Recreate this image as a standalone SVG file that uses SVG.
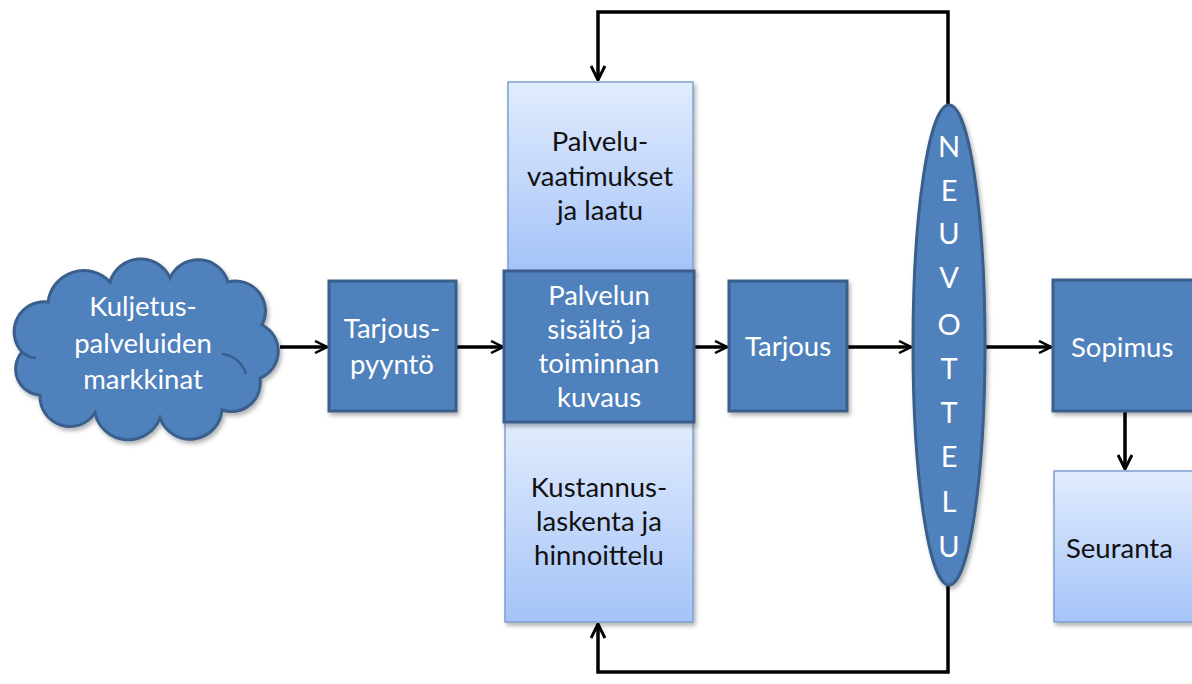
<svg xmlns="http://www.w3.org/2000/svg" width="1192" height="684" viewBox="0 0 1192 684">
<defs>
<linearGradient id="lg" x1="0" y1="0" x2="0" y2="1">
<stop offset="0" stop-color="#E1ECFD"/>
<stop offset="1" stop-color="#A5C3F8"/>
</linearGradient>
<filter id="sh" x="-10%" y="-10%" width="130%" height="130%">
<feDropShadow dx="2" dy="3" stdDeviation="2" flood-color="#000" flood-opacity="0.3"/>
</filter>
<marker id="ah" viewBox="0 0 14 14" refX="13" refY="7" markerWidth="14" markerHeight="14" markerUnits="userSpaceOnUse" orient="auto">
<path d="M1,1 L13,7 L1,13" fill="none" stroke="#000" stroke-width="2.5"/>
</marker>
<marker id="ah2" viewBox="0 0 16 16" refX="15" refY="8" markerWidth="16" markerHeight="16" markerUnits="userSpaceOnUse" orient="auto">
<path d="M1,1 L15,8 L1,15" fill="none" stroke="#000" stroke-width="3"/>
</marker>
</defs>
<style>
.dark{fill:#4F81BD;stroke:#3A5F8B;stroke-width:3}
.light{fill:url(#lg);stroke:#7EA0CF;stroke-width:1.5}
.tw{font-family:Lato,"Open Sans",sans-serif;font-size:27.5px;fill:#fff;text-anchor:middle}
.tb{font-family:Lato,"Open Sans",sans-serif;font-size:27.5px;fill:#111;text-anchor:middle}
.lt{font-family:Lato,"Open Sans",sans-serif;font-size:29px;fill:#fff;text-anchor:middle}
.ln{fill:none;stroke:#000;stroke-width:3.5}
</style>
<rect width="1192" height="684" fill="#fff"/>

<g id="connectors">
<line class="ln" x1="280" y1="347" x2="327" y2="347" marker-end="url(#ah)"/>
<line class="ln" x1="456" y1="347" x2="503" y2="347" marker-end="url(#ah)"/>
<line class="ln" x1="695" y1="347" x2="727" y2="347" marker-end="url(#ah)"/>
<line class="ln" x1="847" y1="347" x2="911" y2="347" marker-end="url(#ah)"/>
<line class="ln" x1="985" y1="347" x2="1051" y2="347" marker-end="url(#ah)"/>
<line class="ln" x1="1125" y1="411" x2="1125" y2="469" marker-end="url(#ah2)"/>
<polyline class="ln" points="948,106 948,12 598,12 598,80" marker-end="url(#ah2)"/>
<polyline class="ln" points="948,584 948,672 598,672 598,624" marker-end="url(#ah2)"/>
</g>

<g id="cloud">
<path class="dark" filter="url(#sh)" d="M22,352 A30,30 0 0 1 48,302 A36,36 0 0 1 110,282 A32,32 0 0 1 170,278 A31,31 0 0 1 228,282 A30,30 0 0 1 262,325 A29,29 0 0 1 260,378 A29,29 0 0 1 222,410 A32,32 0 0 1 160,418 A34,34 0 0 1 95,413 A30,30 0 0 1 40,395 A26,26 0 0 1 22,352 Z"/>
<path d="M222,354 A28,28 0 0 1 246,374" fill="none" stroke="#3A5F8B" stroke-width="2.5"/>
<path d="M22,352 A22,22 0 0 0 36,358" fill="none" stroke="#3A5F8B" stroke-width="2.5"/>
<text class="tw" x="143" y="316">Kuljetus-</text>
<text class="tw" x="143" y="353">palveluiden</text>
<text class="tw" x="143" y="389">markkinat</text>
</g>

<g id="tarjouspyynto">
<rect class="dark" filter="url(#sh)" x="329" y="281" width="127" height="130"/>
<text class="tw" x="392" y="338">Tarjous-</text>
<text class="tw" x="392" y="374">pyyntö</text>
</g>

<g id="vaatimukset">
<rect class="light" filter="url(#sh)" x="508" y="82" width="185" height="190"/>
<text class="tb" x="600" y="151">Palvelu-</text>
<text class="tb" x="600" y="186">vaatimukset</text>
<text class="tb" x="600" y="220">ja laatu</text>
</g>

<g id="kustannus">
<rect class="light" filter="url(#sh)" x="505" y="422" width="188" height="200"/>
<text class="tb" x="599" y="497">Kustannus-</text>
<text class="tb" x="599" y="531">laskenta ja</text>
<text class="tb" x="599" y="565">hinnoittelu</text>
</g>

<g id="sisalto">
<rect class="dark" filter="url(#sh)" x="504" y="271" width="190" height="151"/>
<text class="tw" x="599" y="305">Palvelun</text>
<text class="tw" x="599" y="339">sisältö ja</text>
<text class="tw" x="599" y="373">toiminnan</text>
<text class="tw" x="599" y="407">kuvaus</text>
</g>

<g id="tarjous">
<rect class="dark" filter="url(#sh)" x="729" y="281" width="118" height="130"/>
<text class="tw" x="788" y="356">Tarjous</text>
</g>

<g id="neuvottelu">
<ellipse class="dark" filter="url(#sh)" cx="949" cy="345" rx="36" ry="240" stroke-width="2.5"/>
<text class="lt" x="949" y="157">N</text>
<text class="lt" x="949" y="201">E</text>
<text class="lt" x="949" y="244">U</text>
<text class="lt" x="949" y="288">V</text>
<text class="lt" x="949" y="335">O</text>
<text class="lt" x="949" y="379">T</text>
<text class="lt" x="949" y="423">T</text>
<text class="lt" x="949" y="467">E</text>
<text class="lt" x="949" y="512">L</text>
<text class="lt" x="949" y="557">U</text>
</g>

<g id="sopimus">
<rect class="dark" filter="url(#sh)" x="1053" y="280" width="150" height="131"/>
<text class="tw" x="1071" y="357" style="text-anchor:start">Sopimus</text>
</g>

<g id="seuranta">
<rect class="light" filter="url(#sh)" x="1054" y="471" width="150" height="151"/>
<text class="tb" x="1066" y="558" style="text-anchor:start">Seuranta</text>
</g>
</svg>
